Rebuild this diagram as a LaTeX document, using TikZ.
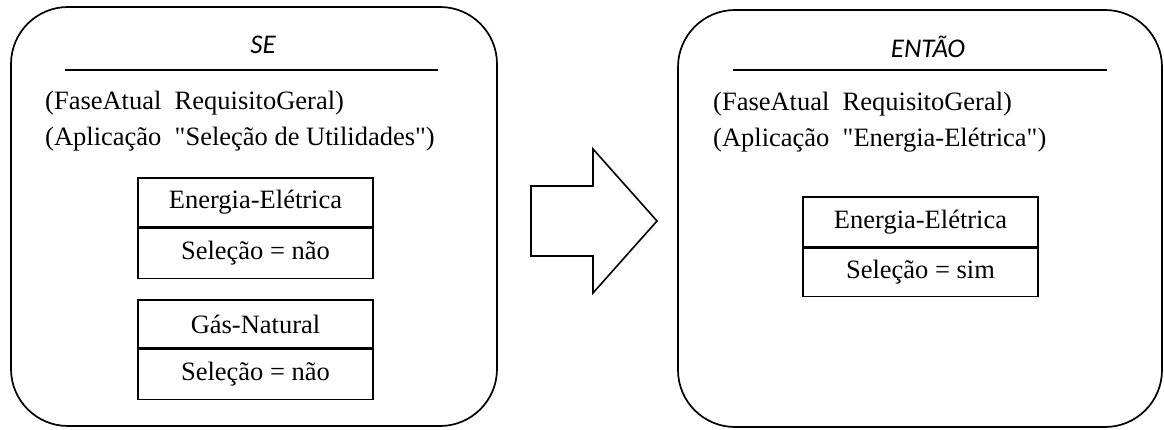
\documentclass[tikz,border=0pt]{standalone}
\usepackage{fontspec}
\setmainfont{Liberation Serif}
\newfontfamily\headfont{Carlito}
% straight double quote, set as a glyph so no quote mapping applies
\newcommand{\dq}{\XeTeXglyph\XeTeXcharglyph"22\relax}
\begin{document}
\begin{tikzpicture}[x=1pt,y=-1pt,
  panel/.style={draw,line width=1.7pt,rounded corners=57pt},
  rulel/.style={line width=1.6pt},
  headtxt/.style={font=\headfont\itshape\fontsize{27}{32}\selectfont,inner sep=0pt},
  bodytxt/.style={font=\fontsize{26.5}{32}\selectfont,anchor=base west,inner sep=0pt},
  cell/.style={draw,line width=1.6pt,minimum width=235pt,inner sep=0pt,
    font=\fontsize{26.5}{32}\selectfont},
  bigarrow/.style={draw,line width=1.6pt,line join=miter}]
\useasboundingbox (0,0) rectangle (1164,430);

% condition panel
\draw[panel] (11,7) rectangle (497,426);
\node[headtxt] (se) at (263,45) {SE};
\coordinate (seL) at (65,70);
\coordinate (seR) at (438,70);
\draw[rulel] (seL) -- (seR);
\node[bodytxt] (l1) at (45,110) {(FaseAtual\ \ RequisitoGeral)};
\node[bodytxt] (l2) at (45,146) {(Aplicação\ \ \dq Seleção de Utilidades\dq)};
\node[cell,minimum height=49pt] (ee1) at (255.5,202.5) {Energia-Elétrica};
\node[cell,minimum height=50pt,anchor=north] (ee1v) at (ee1.south) {Seleção = não};
\node[cell,minimum height=48pt] (gn) at (255.5,324) {Gás-Natural};
\node[cell,minimum height=50pt,anchor=north] (gnv) at (gn.south) {Seleção = não};

% implication arrow
\draw[bigarrow] (531,186) coordinate (a1) -- (593,186) -- (593,149) -- (657,221)
  -- (593,293) -- (593,256) -- (531,256) -- cycle;

% conclusion panel
\draw[panel] (678,10) rectangle (1162,427);
\node[headtxt] (then) at (928,47) {ENTÃO};
\coordinate (thL) at (733,70);
\coordinate (thR) at (1107,70);
\draw[rulel] (thL) -- (thR);
\node[bodytxt] (r1) at (713,111) {(FaseAtual\ \ RequisitoGeral)};
\node[bodytxt] (r2) at (713,147) {(Aplicação\ \ \dq Energia-Elétrica\dq)};
\node[cell,minimum height=50pt] (ee2) at (920.5,222) {Energia-Elétrica};
\node[cell,minimum height=48pt,anchor=north] (ee2v) at (ee2.south) {Seleção = sim};
\end{tikzpicture}
\end{document}
